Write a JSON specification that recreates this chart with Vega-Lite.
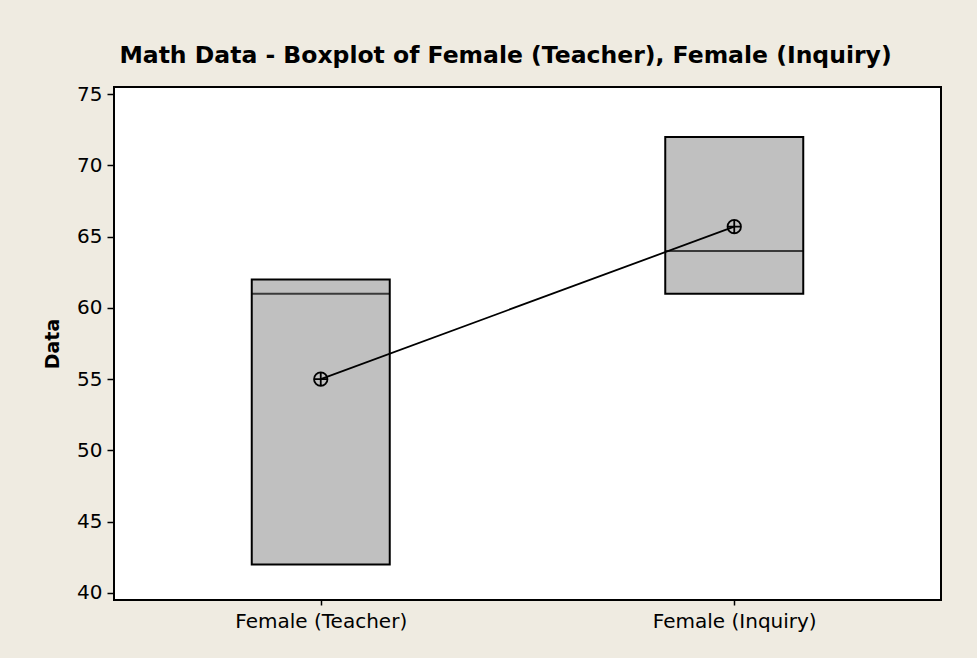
{
  "$schema": "https://vega.github.io/schema/vega-lite/v6.json",
  "autosize": {"type": "none"},
  "width": 827,
  "height": 513,
  "padding": {"left": 114, "top": 87, "right": 36, "bottom": 58},
  "background": "#EFEBE1",
  "title": {
    "text": "Math Data - Boxplot of Female (Teacher), Female (Inquiry)",
    "font": "DejaVu Sans",
    "fontSize": 23.5,
    "fontWeight": "bold",
    "color": "#000000",
    "anchor": "middle",
    "offset": 17,
    "dx": -22
  },
  "config": {
    "view": {"fill": "#FFFFFF", "stroke": "#000000", "strokeWidth": 2},
    "axis": {
      "labelFont": "DejaVu Sans",
      "labelFontSize": 20,
      "labelColor": "#000000",
      "titleFont": "DejaVu Sans",
      "titleColor": "#000000",
      "tickColor": "#000000",
      "tickWidth": 1.5,
      "domain": false,
      "grid": false
    }
  },
  "data": {
    "values": [
      {"group": "Female (Teacher)", "q1": 42, "median": 61, "q3": 62, "mean": 55},
      {"group": "Female (Inquiry)", "q1": 61, "median": 64, "q3": 72, "mean": 65.7}
    ]
  },
  "encoding": {
    "x": {
      "field": "group",
      "type": "nominal",
      "sort": ["Female (Teacher)", "Female (Inquiry)"],
      "scale": {"type": "point", "padding": 0.5},
      "axis": {"title": null, "labelAngle": 0, "tickSize": 5, "labelPadding": 6}
    }
  },
  "layer": [
    {
      "mark": {"type": "bar", "width": 138, "fill": "#C0C0C0", "stroke": "#000000", "strokeWidth": 2},
      "encoding": {
        "y": {
          "field": "q1",
          "type": "quantitative",
          "scale": {"domain": [39.5, 75.5], "nice": false, "zero": false},
          "axis": {
            "title": "Data",
            "titleFontSize": 19,
            "titleFontWeight": "bold",
            "titlePadding": 14,
            "values": [40, 45, 50, 55, 60, 65, 70, 75],
            "tickSize": 7,
            "labelPadding": 5
          }
        },
        "y2": {"field": "q3"}
      }
    },
    {
      "mark": {"type": "tick", "size": 138, "thickness": 2, "color": "#000000", "orient": "horizontal"},
      "encoding": {"y": {"field": "median", "type": "quantitative"}}
    },
    {
      "mark": {"type": "line", "color": "#000000", "strokeWidth": 1.8},
      "encoding": {"y": {"field": "mean", "type": "quantitative"}}
    },
    {
      "mark": {
        "type": "point",
        "shape": "M1,0A1,1 0 1,1 -1,0A1,1 0 1,1 1,0Z M-1,0L1,0M0,-1L0,1",
        "size": 180,
        "filled": false,
        "stroke": "#000000",
        "strokeWidth": 1.8,
        "opacity": 1
      },
      "encoding": {"y": {"field": "mean", "type": "quantitative"}}
    }
  ]
}
